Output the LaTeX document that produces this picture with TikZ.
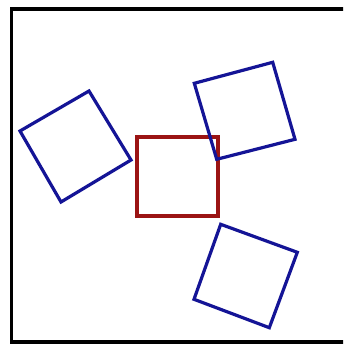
\documentclass[tikz,border=0pt]{standalone}
\definecolor{sqblue}{RGB}{20,20,150}
\definecolor{sqred}{RGB}{155,20,20}
\tikzset{
  bluesq/.style={draw=sqblue, line width=3.2pt, line join=miter},
  redsq/.style={draw=sqred, line width=3.2pt, line join=miter},
  frame/.style={draw=black, line width=3.8pt}
}
\begin{document}
\begin{tikzpicture}[x=1pt,y=-1pt]
\useasboundingbox (0,0) rectangle (343,344);
\clip (0,0) rectangle (343,344);
\fill[white] (0,0) rectangle (343,344);
% frame
\draw[frame] (11.5,9) rectangle (360,342);
% red square
\draw[redsq] (137,137) rectangle (218,216);
% left blue square
\draw[bluesq] (89,91) -- (131,160) -- (61,202) -- (20,131) -- cycle;
% upper right blue square
\draw[bluesq] (194.3,83.3) -- (272.7,62.3) -- (295,139.3) -- (216.7,159.3) -- cycle;
% lower right blue square
\draw[bluesq] (220.7,224.3) -- (297.3,252.3) -- (269.3,327.7) -- (194,299.3) -- cycle;
\end{tikzpicture}
\end{document}
